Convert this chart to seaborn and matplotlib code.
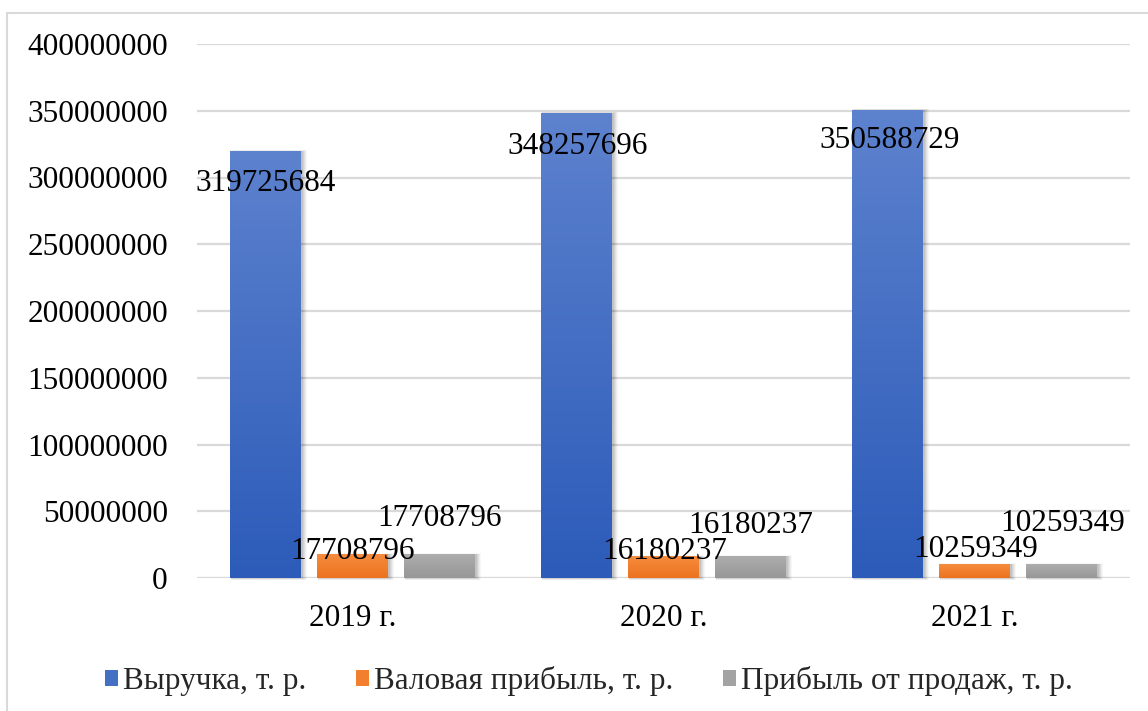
import numpy as np
import pandas as pd
import matplotlib
matplotlib.use("Agg")
import matplotlib.pyplot as plt
from matplotlib.colors import LinearSegmentedColormap
from matplotlib.patches import Rectangle, Patch
from matplotlib.lines import Line2D
import seaborn as sns

# ---- data -------------------------------------------------------------
years = ["2019 г.", "2020 г.", "2021 г."]
series = ["Выручка, т. р.", "Валовая прибыль, т. р.", "Прибыль от продаж, т. р."]
revenue = [319725684, 348257696, 350588729]
gross_profit = [17708796, 16180237, 10259349]
sales_profit = [17708796, 16180237, 10259349]
y_ticks = [0, 50000000, 100000000, 150000000, 200000000,
           250000000, 300000000, 350000000, 400000000]

# ---- styling ----------------------------------------------------------
top_colors = ["#5D82CE", "#F68C3E", "#ADADAD"]
bottom_colors = ["#2C5BB9", "#EC721F", "#979797"]
mid_colors = ["#4470C4", "#F17F2E", "#A3A3A3"]
grid_color = "#D9D9D9"
# label offsets in pixels (dx, dy) per series, per year
label_offsets = [
    [(0, -32), (1, -33), (2, -31)],
    [(0, 3), (1, 5), (1, 15)],
    [(0, 36), (0, 31), (1, 41)],
]

df = pd.DataFrame({
    "year": years * 3,
    "series": [series[0]] * 3 + [series[1]] * 3 + [series[2]] * 3,
    "value": revenue + gross_profit + sales_profit,
})

sns.set_theme(style="white")
plt.rcParams["font.family"] = ["Liberation Serif", "DejaVu Serif"]

W, H = 1148, 711
fig = plt.figure(figsize=(W / 100, H / 100), dpi=100)
ax_left, ax_right, ax_top, ax_bottom = 197, 1130, 44, 578
ax = fig.add_axes([ax_left / W, 1 - ax_bottom / H,
                   (ax_right - ax_left) / W, (ax_bottom - ax_top) / H])

sns.barplot(data=df, x="year", y="value", hue="series", hue_order=series,
            palette=dict(zip(series, mid_colors)), saturation=1,
            width=0.84, gap=0.186, legend=False, ax=ax, zorder=3)

ax.set_xlim(-0.5, 2.5)
ax.set_ylim(0, 400000000)
ax.set_yticks(y_ticks)
ax.set_yticklabels([str(v) for v in y_ticks])
ax.set_xlabel("")
ax.set_ylabel("")
for s in ax.spines.values():
    s.set_visible(False)
ax.yaxis.grid(True, color=grid_color, linewidth=1.6, zorder=0)
ax.set_axisbelow(True)
ax.axhline(0, color=grid_color, linewidth=2.2, zorder=1)
ax.tick_params(axis="y", length=0, pad=21, labelsize=22.5, labelcolor="black")
ax.tick_params(axis="x", length=0, pad=19, labelsize=22.5, labelcolor="black")

# px -> data helpers
px_per_x = (ax_right - ax_left) / 3.0
px_per_y = (ax_bottom - ax_top) / 400000000.0

# gradient fills and soft shadows
for i, cont in enumerate(ax.containers):
    cmap = LinearSegmentedColormap.from_list(f"g{i}", [bottom_colors[i], top_colors[i]])
    grad = np.linspace(0, 1, 256).reshape(-1, 1)
    for j, bar in enumerate(cont):
        x0, w = bar.get_x(), bar.get_width()
        h = bar.get_height()
        # shadow
        for k, a in zip(range(1, 6), [0.07, 0.06, 0.05, 0.04, 0.03]):
            sh = Rectangle((x0 + 1.0 / px_per_x, -k * 0.4 / px_per_y),
                           w + (k * 1.0) / px_per_x,
                           h + (k * 0.6) / px_per_y,
                           facecolor="black", edgecolor="none", alpha=a,
                           zorder=2, clip_on=False)
            ax.add_patch(sh)
        im = ax.imshow(grad, extent=[x0, x0 + w, 0, h], origin="lower",
                       cmap=cmap, aspect="auto", zorder=3.5,
                       interpolation="bilinear")
        im.set_clip_path(bar)
        bar.set_edgecolor("none")

ax.set_xlim(-0.5, 2.5)
ax.set_ylim(0, 400000000)
ax.set_aspect("auto")

# value labels
for i, cont in enumerate(ax.containers):
    for j, bar in enumerate(cont):
        v = int(round(bar.get_height()))
        dx, dy = label_offsets[i][j]
        ax.annotate(str(v), (bar.get_x() + bar.get_width() / 2, bar.get_height()),
                    xytext=(dx * 0.72, dy * 0.72), textcoords="offset points",
                    ha="center", va="center", fontsize=22.5, color="black",
                    zorder=6)

# chart frame (left and top edges)
fig.add_artist(Line2D([7 / W, 7 / W], [0, 1 - 13 / H], transform=fig.transFigure,
                      color=grid_color, linewidth=1.5))
fig.add_artist(Line2D([7 / W, 1], [1 - 13 / H, 1 - 13 / H], transform=fig.transFigure,
                      color=grid_color, linewidth=1.5))

# legend
handles = [Patch(facecolor=c, edgecolor="none") for c in mid_colors]
fig.legend(handles, series, loc="center", bbox_to_anchor=(589 / W, 1 - 681 / H),
           ncol=3, frameon=False, fontsize=22.5, handlelength=0.42,
           handleheight=0.42, handletextpad=0.15, columnspacing=1.6,
           borderaxespad=0)

fig.savefig("out.png", dpi=100, facecolor="white")
